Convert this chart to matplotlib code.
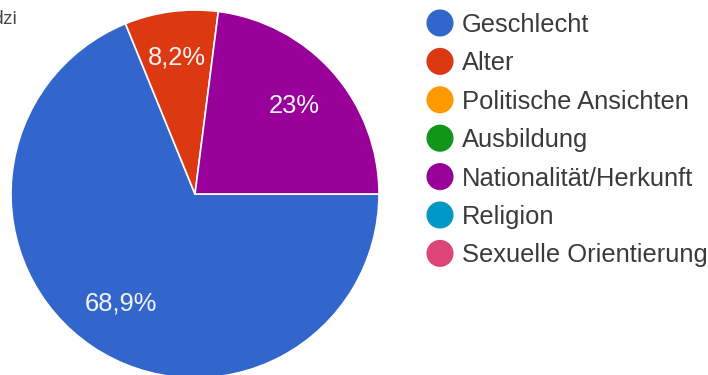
import matplotlib

matplotlib.use('Agg')
import matplotlib.pyplot as plt
import numpy as np

plt.rcParams['font.family'] = ['Liberation Sans', 'DejaVu Sans']

categories = ["Geschlecht", "Alter", "Politische Ansichten", "Ausbildung",
              "Nationalität/Herkunft", "Religion", "Sexuelle Orientierung"]
shares = [68.9, 8.2, 0.0, 0.0, 23.0, 0.0, 0.0]
share_labels = ["68,9%", "8,2%", "", "", "23%", "", ""]
colors = ["#3366cc", "#dc3912", "#ff9900", "#109618", "#990099", "#0099c6", "#dd4477"]

W, H = 708, 375
fig = plt.figure(figsize=(W / 100, H / 100), dpi=100)

# pie: centre (195, 194) px from top-left, radius 184 px
cx, cy, r = 195, 194, 184
ax = fig.add_axes([(cx - r) / W, (H - cy - r) / H, 2 * r / W, 2 * r / H])
nz = [i for i, v in enumerate(shares) if v > 0]
wedges, _ = ax.pie([shares[i] for i in nz], colors=[colors[i] for i in nz],
                   startangle=0, counterclock=False, radius=1,
                   wedgeprops=dict(edgecolor='white', linewidth=1.2))
for w, i in zip(wedges, nz):
    mid = np.deg2rad((w.theta1 + w.theta2) / 2)
    d = 0.75 if shares[i] < 10 else 0.72
    ax.text(d * np.cos(mid), d * np.sin(mid), share_labels[i], color='#f4f4f4',
            fontsize=18.4, ha='center', va='center')
ax.set_xlim(-1, 1)
ax.set_ylim(-1, 1)
ax.axis('off')

# legend drawn in pixel coordinates
lax = fig.add_axes([0, 0, 1, 1], facecolor='none')
lax.set_xlim(0, W)
lax.set_ylim(H, 0)
lax.axis('off')
rows = 23 + 38.4 * np.arange(len(categories))
lax.scatter(np.full(len(categories), 440), rows, s=380, c=colors, edgecolors='none')
for y, name in zip(rows, categories):
    lax.text(462, y + 9, name, fontsize=18.4, color='#3a3a3a', ha='left', va='baseline')

# cut-off text in the top-left corner
lax.text(18, 24, "dzi", fontsize=14, color='#444444', ha='right', va='baseline',
         family=['Open Sans', 'DejaVu Sans'])

fig.savefig("out.png", dpi=100)
